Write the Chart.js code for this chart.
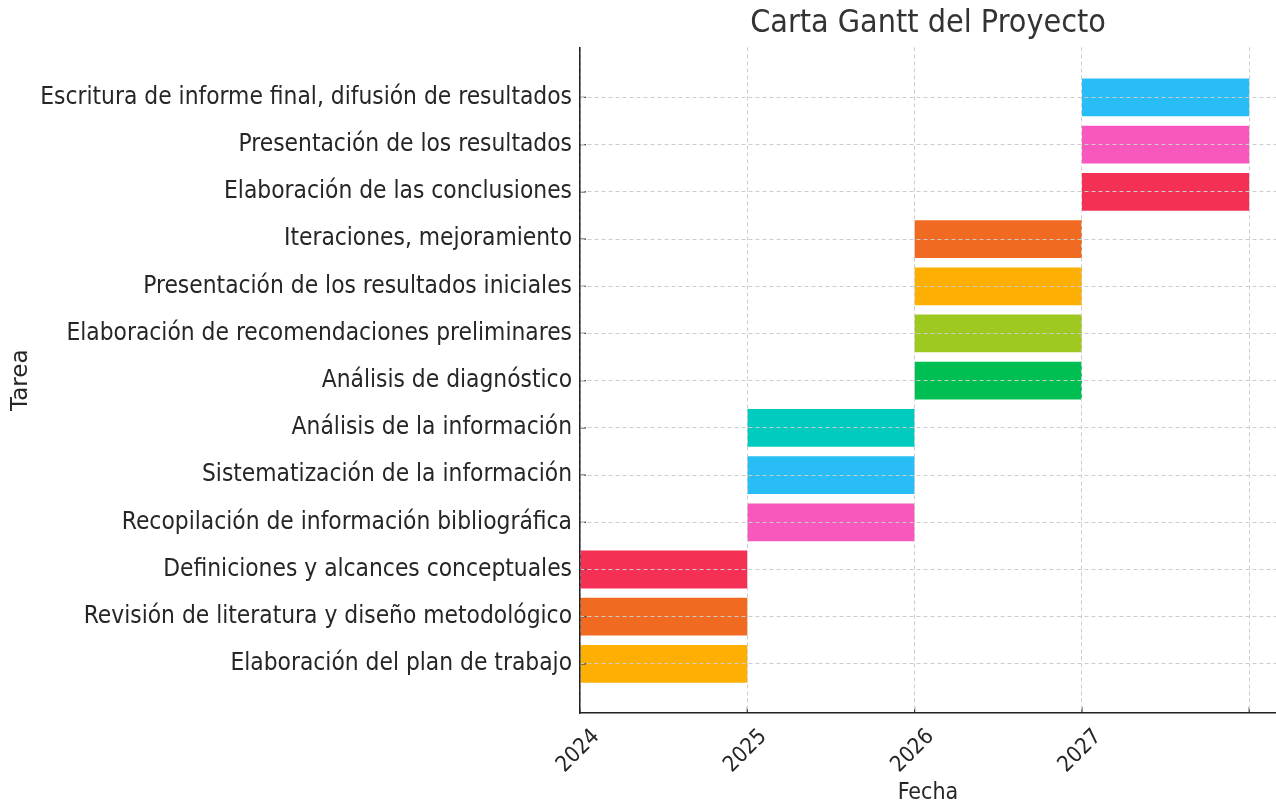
<!DOCTYPE html>
<html>
<head>
<meta charset="utf-8">
<script src="https://cdn.jsdelivr.net/npm/chart.js@4/dist/chart.umd.min.js"></script>
<style>
  html, body { margin: 0; padding: 0; background: #fff; }
  #wrap { width: 1276px; height: 807px; }
</style>
</head>
<body>
<div id="wrap"><canvas id="gantt"></canvas></div>
<script>
// tasks listed bottom to top
const tasks = [
  "Elaboración del plan de trabajo",
  "Revisión de literatura y diseño metodológico",
  "Definiciones y alcances conceptuales",
  "Recopilación de información bibliográfica",
  "Sistematización de la información",
  "Análisis de la información",
  "Análisis de diagnóstico",
  "Elaboración de recomendaciones preliminares",
  "Presentación de los resultados iniciales",
  "Iteraciones, mejoramiento",
  "Elaboración de las conclusiones",
  "Presentación de los resultados",
  "Escritura de informe final, difusión de resultados"
];
const starts = [2024, 2024, 2024, 2025, 2025, 2025, 2026, 2026, 2026, 2026, 2027, 2027, 2027];
const ends   = [2025, 2025, 2025, 2026, 2026, 2026, 2027, 2027, 2027, 2027, 2028, 2028, 2028];
const yearTicks = [2024, 2025, 2026, 2027, 2028];
const yearLabels = ["2024", "2025", "2026", "2027", ""];

const barColors = [
  "#fdaf03", "#f06a22", "#f43155",
  "#f857bd", "#29bdf6", "#00cbbe",
  "#00bf52", "#9dc921", "#fdaf03", "#f06a22",
  "#f43155", "#f857bd", "#29bdf6"
];

const FONT = "'DejaVu Sans Condensed', 'DejaVu Sans', sans-serif";
const textColor = "#262626";

// small inward tick marks like the original plot
const innerTicks = {
  id: "innerTicks",
  afterDatasetsDraw(chart) {
    const { ctx, chartArea, scales } = chart;
    ctx.save();
    ctx.strokeStyle = "#333";
    ctx.lineWidth = 1.2;
    ctx.beginPath();
    yearTicks.forEach(v => {
      const px = scales.x.getPixelForValue(v);
      ctx.moveTo(px, chartArea.bottom);
      ctx.lineTo(px, chartArea.bottom - 6);
    });
    tasks.forEach((t, i) => {
      const py = scales.y.getPixelForValue(i);
      ctx.moveTo(chartArea.left, py);
      ctx.lineTo(chartArea.left + 6, py);
    });
    ctx.stroke();
    ctx.restore();
  }
};

new Chart("gantt", {
  type: "bar",
  data: {
    datasets: [
      {
        data: tasks.map((t, i) => ({ x: [starts[i], ends[i]], y: i })),
        backgroundColor: barColors,
        borderWidth: 0,
        barPercentage: 0.8,
        categoryPercentage: 1.0
      }
    ]
  },
  options: {
    indexAxis: "y",
    responsive: true,
    maintainAspectRatio: false,
    animation: false,
    layout: { padding: 0 },
    plugins: {
      legend: { display: false },
      tooltip: { enabled: false },
      title: {
        display: true,
        fullSize: false,
        text: "Carta Gantt del Proyecto",
        color: "#333",
        font: { family: FONT, size: 32, weight: "normal" },
        padding: { top: 4, bottom: 5 }
      }
    },
    scales: {
      x: {
        type: "linear",
        min: 2024,
        max: 2028.16,
        offset: false,
        afterBuildTicks: axis => { axis.ticks = yearTicks.map(v => ({ value: v })); },
        afterFit: axis => {
          axis.height = 94;
          axis.paddingLeft = 0;
          axis.paddingRight = 0;
        },
        grid: { color: "#cccccc", lineWidth: 1, drawTicks: false, offset: false, z: 1 },
        border: { display: true, color: "#222", width: 1.5, dash: [4, 3], z: 2 },
        ticks: {
          color: textColor,
          font: { family: FONT, size: 22 },
          minRotation: 45,
          maxRotation: 45,
          padding: 11,
          labelOffset: 16,
          callback: v => yearLabels[yearTicks.indexOf(v)]
        },
        title: {
          display: true,
          text: "Fecha",
          color: textColor,
          font: { family: FONT, size: 23 },
          padding: { top: 0, bottom: 0 }
        }
      },
      y: {
        type: "linear",
        min: -1.04,
        max: 13.06,
        offset: false,
        afterBuildTicks: axis => { axis.ticks = tasks.map((t, i) => ({ value: i })); },
        afterFit: axis => { axis.width = 580; },
        grid: { color: "#cccccc", lineWidth: 1, drawTicks: false, offset: false, z: 1 },
        border: { display: true, color: "#222", width: 1.5, dash: [4, 3], z: 2 },
        ticks: {
          color: textColor,
          font: { family: FONT, size: 24.3 },
          padding: 8,
          callback: v => tasks[v]
        },
        title: {
          display: true,
          text: "Tarea",
          color: textColor,
          font: { family: "'DejaVu Sans', sans-serif", size: 23 },
          padding: { top: 7, bottom: 0 }
        }
      }
    }
  },
  plugins: [innerTicks]
});
</script>
</body>
</html>
